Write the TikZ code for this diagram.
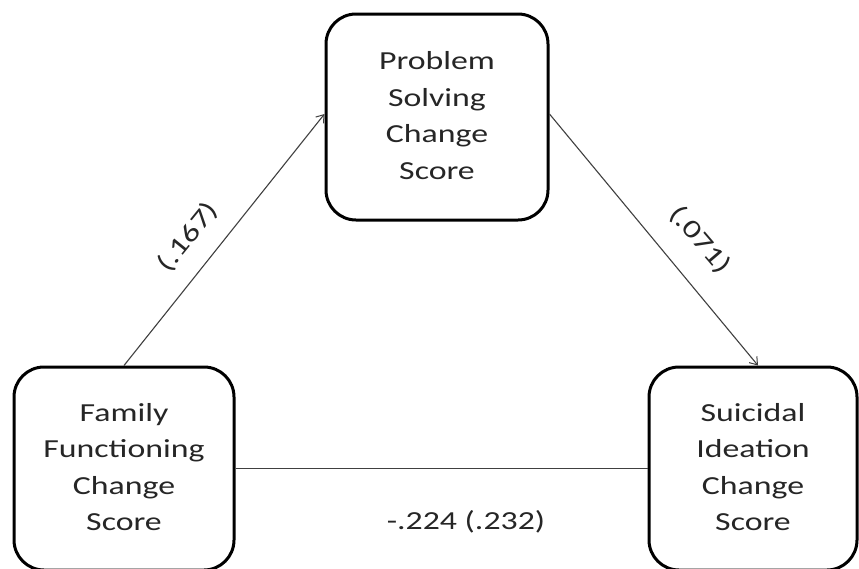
\documentclass[tikz,border=0pt]{standalone}
\usepackage{fontspec}
\setmainfont{Carlito}
\usetikzlibrary{arrows.meta}
\newcommand{\wide}[1]{\scalebox{1.3}[1]{#1}}
\newcommand{\stack}[1]{\wide{\begin{tabular}{@{}c@{}}#1\end{tabular}}}
\tikzset{
  varbox/.style={draw=black, line width=3pt, rounded corners=30pt, inner sep=0pt,
    text=black!85, font=\fontsize{26}{36.5}\selectfont},
  path/.style={draw=black!75, line width=1.1pt, -{Straight Barb[length=7pt,width=10pt,line width=1pt]}},
  plain/.style={draw=black!75, line width=1.1pt},
  coef/.style={text=black!85, font=\fontsize{26}{30}\selectfont, inner sep=0pt}
}
\begin{document}
\begin{tikzpicture}[x=1pt,y=-1pt]
\useasboundingbox[fill=white] (0,0) rectangle (859,568);
\node[varbox, minimum width=222pt, minimum height=206pt] (ps) at (437,117)
  {\stack{Problem\\Solving\\Change\\Score}};
\node[varbox, minimum width=220pt, minimum height=203pt] (ff) at (124,468.5)
  {\stack{Family\\Functioning\\Change\\Score}};
\node[varbox, minimum width=208pt, minimum height=203pt] (si) at (753,468.5)
  {\stack{Suicidal\\Ideation\\Change\\Score}};
\draw[path] (ff.north) -- ([yshift=3pt]ps.west);
\draw[path] ([yshift=3pt]ps.east) -- ([xshift=5pt]si.north);
\draw[plain] (ff.east) -- (si.west);
\node[coef, rotate=51] (l1) at (188,237) {\wide{(.167)}};
\node[coef, rotate=-49.5] (l2) at (700,240) {\wide{(.071)}};
\node[coef] (l3) at (466,522) {\wide{-.224 (.232)}};
\end{tikzpicture}
\end{document}
